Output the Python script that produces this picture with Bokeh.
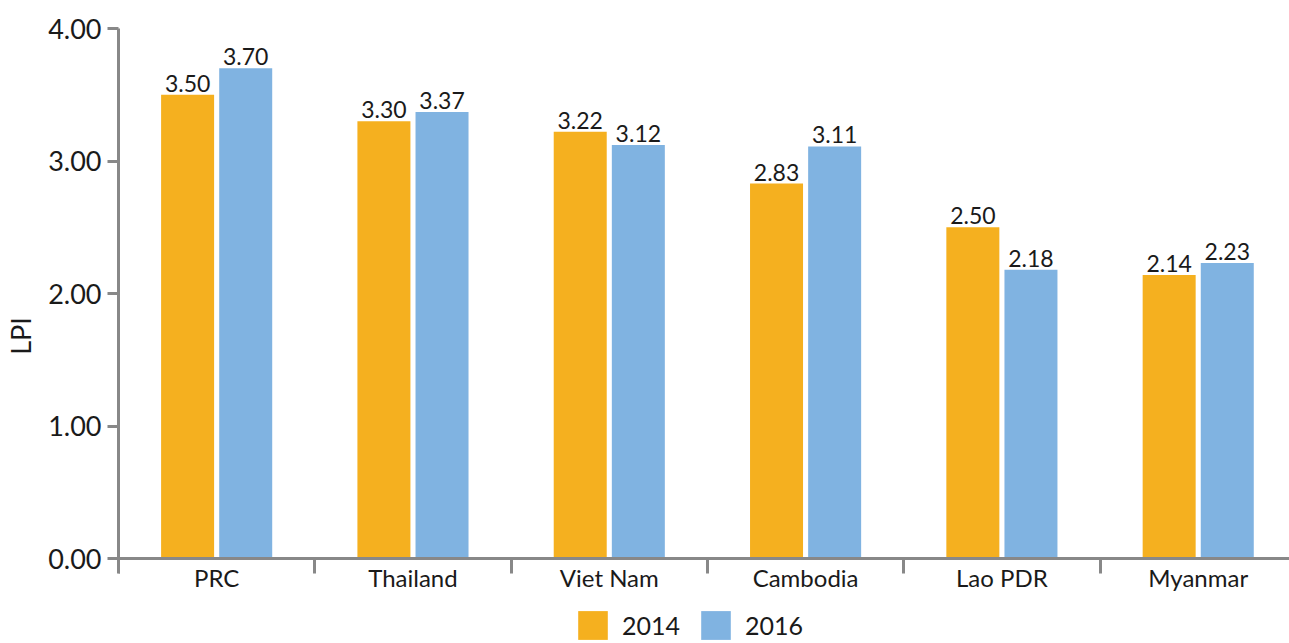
from bokeh.plotting import figure
from bokeh.models import ColumnDataSource, Range1d, FixedTicker, Legend, LegendItem, PrintfTickFormatter
from bokeh.core.properties import value
from bokeh.embed import file_html
from bokeh.resources import INLINE

countries = ["PRC", "Thailand", "Viet Nam", "Cambodia", "Lao PDR", "Myanmar"]
lpi_2014 = [3.50, 3.30, 3.22, 2.83, 2.50, 2.14]
lpi_2016 = [3.70, 3.37, 3.12, 3.11, 2.18, 2.23]
years = ["2014", "2016"]
y_ticks = [0, 1, 2, 3, 4]

FONT = "Lato"
ORANGE = "#F5B01F"
BLUE = "#80B3E1"
AXIS = "#888888"

n = len(countries)
centers = [i + 0.5 for i in range(n)]
off = 0.148
width = 0.27

src14 = ColumnDataSource(dict(x=[c - off for c in centers], top=lpi_2014,
                              lab=["%.2f" % v for v in lpi_2014]))
src16 = ColumnDataSource(dict(x=[c + off for c in centers], top=lpi_2016,
                              lab=["%.2f" % v for v in lpi_2016]))

W, H = 1289, 643
p = figure(width=W, height=H, output_backend="svg", toolbar_location=None,
           x_range=Range1d(0, 5.965), y_range=Range1d(-0.6415, 4),
           min_border_left=118, min_border_right=0, min_border_top=28, min_border_bottom=0)
p.outline_line_color = None
p.xgrid.visible = False
p.ygrid.visible = False

r1 = p.vbar(x="x", top="top", width=width, source=src14, fill_color=ORANGE, line_color=None)
r2 = p.vbar(x="x", top="top", width=width, source=src16, fill_color=BLUE, line_color=None)

for s in (src14, src16):
    p.text(x="x", y="top", text="lab", source=s, text_align="center", text_baseline="bottom",
           y_offset=-3, text_font=value(FONT), text_font_size="23px", text_color="#1a1a1a")

# x axis, drawn at y = 0 inside the frame
p.xaxis.fixed_location = 0
p.xaxis.ticker = FixedTicker(ticks=centers, minor_ticks=list(range(n + 1)))
p.xaxis.major_label_overrides = {c: name for c, name in zip(centers, countries)}
p.xaxis.major_tick_out = 0
p.xaxis.major_tick_in = 0
p.xaxis.minor_tick_out = 15
p.xaxis.minor_tick_in = 0
p.xaxis.minor_tick_line_width = 3
p.xaxis.minor_tick_line_color = AXIS
p.xaxis.axis_line_width = 3
p.xaxis.axis_line_color = AXIS
p.xaxis.major_label_standoff = -11
p.xaxis.major_label_text_font = FONT
p.xaxis.major_label_text_font_size = "24px"
p.xaxis.major_label_text_color = "#1a1a1a"

# y axis
p.yaxis.ticker = FixedTicker(ticks=y_ticks, minor_ticks=[])
p.yaxis.bounds = (-0.113, 4)
p.yaxis.formatter = PrintfTickFormatter(format="%.2f")
p.yaxis.major_tick_out = 11
p.yaxis.major_tick_in = 0
p.yaxis.major_tick_line_width = 3
p.yaxis.major_tick_line_color = AXIS
p.yaxis.axis_line_width = 3
p.yaxis.axis_line_color = AXIS
p.yaxis.major_label_standoff = 6
p.yaxis.major_label_text_font = FONT
p.yaxis.major_label_text_font_size = "27px"
p.yaxis.major_label_text_color = "#1a1a1a"
p.yaxis.axis_label = "LPI"
p.yaxis.axis_label_text_font = FONT
p.yaxis.axis_label_text_font_size = "27px"
p.yaxis.axis_label_text_font_style = "normal"
p.yaxis.axis_label_text_color = "#1a1a1a"
p.yaxis.axis_label_standoff = 8

legend = Legend(items=[LegendItem(label=years[0], renderers=[r1]),
                       LegendItem(label=years[1], renderers=[r2])],
                orientation="horizontal", location=(456, 0),
                glyph_width=37, glyph_height=36, label_standoff=11, spacing=17,
                label_text_font=FONT, label_text_font_size="25px", label_text_color="#1a1a1a",
                border_line_color=None, background_fill_alpha=0, padding=0, margin=0)
p.add_layout(legend, "center")

open("out.html", "w").write(file_html(p, INLINE))
